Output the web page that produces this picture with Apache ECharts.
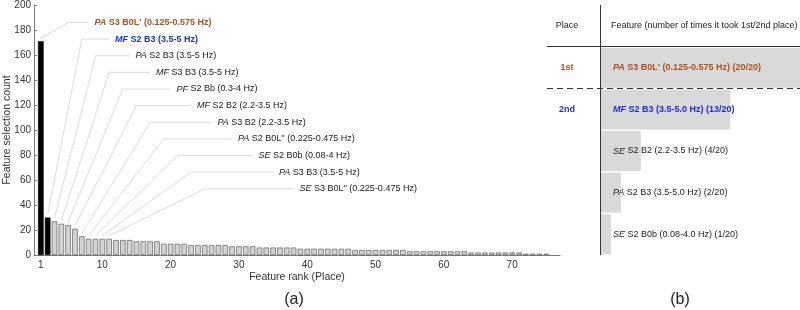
<!DOCTYPE html>
<html><head><meta charset="utf-8">
<script src="https://cdn.jsdelivr.net/npm/echarts@6/dist/echarts.min.js"></script>
<style>html,body{margin:0;padding:0;background:#fff}#c{width:800px;height:310px}</style>
</head><body><div id="c"></div>
<script>
// ---- data ----
const rankCounts = [171,30,27,25,24,21,15,13,13,13,13,12,12,12,11,11,11,11,9,9,9,9,8,8,8,8,8,8,7,7,7,7,6,6,6,6,6,6,
  5,5,5,5,5,5,5,5, 4,4,4,4,4,4,4,4, 3,3,3,3,3,3,3,3,3, 2,2,2,2,2,2,2,2, 1,1,1,1];
const calloutPrefix = ['PA','MF','PA','MF','PF','MF','PA','PA','SE','PA','SE'];
const calloutRest = ["S3 B0L' (0.125-0.575 Hz)","S2 B3 (3.5-5 Hz)","S2 B3 (3.5-5 Hz)","S3 B3 (3.5-5 Hz)",
  "S2 Bb (0.3-4 Hz)","S2 B2 (2.2-3.5 Hz)","S3 B2 (2.2-3.5 Hz)","S2 B0L'' (0.225-0.475 Hz)",
  "S2 B0b (0.08-4 Hz)","S3 B3 (3.5-5 Hz)","S3 B0L'' (0.225-0.475 Hz)"];
const xTicks = [1,10,20,30,40,50,60,70];
const tablePlaces = ['1st','2nd','','',''];
const tablePrefix = ['PA','MF','SE','PA','SE'];
const tableRest = ["S3 B0L' (0.125-0.575 Hz) (20/20)","S2 B3 (3.5-5.0 Hz) (13/20)","S2 B2 (2.2-3.5 Hz) (4/20)",
  "S2 B3 (3.5-5.0 Hz) (2/20)","S2 B0b (0.08-4.0 Hz) (1/20)"];
const tableWins = [20,13,4,2,1];

// ---- styles ----
const FONT = "'Liberation Sans', Arial, Helvetica, sans-serif";
const BROWN = '#a9521f';
const BLUE = '#1a30d6';
const DARK = '#1a1a1a';
const rowColor = i => i===0 ? BROWN : (i===1 ? BLUE : DARK);
const rowWeight = i => i<2 ? 'bold' : 'normal';
const richPair = (i, key) => ({
  a:{fontFamily:FONT, fontSize:9, fontStyle:'italic', fontWeight:rowWeight(i), [key]:rowColor(i), verticalAlign:'middle'},
  b:{fontFamily:FONT, fontSize:9, fontStyle:'normal', fontWeight:rowWeight(i), [key]:rowColor(i), verticalAlign:'middle'}
});

const chart = echarts.init(document.getElementById('c'), null, {renderer:'canvas'});

const barData = rankCounts.map((v,i)=>({
  value:[i+1, v],
  itemStyle: i<2 ? {color:'#000', borderColor:'#000', borderWidth:0.6}
                 : {color:'#d3d3d3', borderColor:'#6e6e6e', borderWidth:0.8}
}));

const calloutData = calloutPrefix.map((p,i)=>[i+1, rankCounts[i], i]);
const tableTextData = tableWins.map((w,i)=>[0, i, i]);

const option = {
  animation:false,
  backgroundColor:'#fff',
  textStyle:{fontFamily:FONT},
  grid:[
    {left:34, top:5, width:526, height:250, containLabel:false, outerBoundsMode:'none'},
    {left:601, top:47, width:199, height:208, containLabel:false, outerBoundsMode:'none'}
  ],
  xAxis:[
    {type:'value', gridIndex:0, min:0, max:77,
     axisLine:{show:true, lineStyle:{color:'#7a7a7a', width:1}},
     axisTick:{show:true, inside:true, length:3, customValues:xTicks, lineStyle:{color:'#7a7a7a'}},
     axisLabel:{customValues:xTicks, fontSize:10, color:'#333', margin:5, fontFamily:FONT},
     splitLine:{show:false},
     name:'Feature rank (Place)', nameLocation:'middle', nameGap:17, nameMoveOverlap:false,
     nameTextStyle:{fontSize:10.5, color:'#333', fontFamily:FONT}},
    {type:'value', gridIndex:1, min:0, max:20, show:false}
  ],
  yAxis:[
    {type:'value', gridIndex:0, min:0, max:200, interval:20,
     axisLine:{show:true, lineStyle:{color:'#7a7a7a', width:1}},
     axisTick:{show:true, inside:true, length:3, lineStyle:{color:'#7a7a7a'}},
     axisLabel:{fontSize:10, color:'#333', margin:3, fontFamily:FONT},
     splitLine:{show:false},
     name:'Feature selection count', nameLocation:'middle', nameGap:21, nameRotate:90, nameMoveOverlap:false,
     nameTextStyle:{fontSize:10.5, color:'#333', fontFamily:FONT}},
    {type:'category', gridIndex:1, inverse:true, data:tablePlaces,
     axisLine:{show:false}, axisTick:{show:false},
     axisLabel:{margin:34, align:'center', fontFamily:FONT,
       formatter:(v,idx)=> v ? '{p'+idx+'|'+v+'}' : '',
       rich:{
         p0:{fontFamily:FONT, fontSize:9, fontWeight:'bold', color:BROWN},
         p1:{fontFamily:FONT, fontSize:9, fontWeight:'bold', color:BLUE}
       }}}
  ],
  series:[
    {type:'bar', xAxisIndex:0, yAxisIndex:0, barWidth:5.6, data:barData, silent:true},
    {type:'custom', xAxisIndex:0, yAxisIndex:0, data:calloutData, silent:true, z:5, clip:false,
     renderItem:(params, api)=>{
       const i = api.value(2);
       const p0 = api.coord([api.value(0), api.value(1)]);
       p0[1] -= 3;
       const ly = 186 - 13.3*i;
       const pc = api.coord([5 + 2*i, ly]);
       const pt = api.coord([8.85 + 3*i, ly]);
       return {type:'group', children:[
         {type:'polyline', shape:{points:[p0, pc, [pt[0]-6, pc[1]]]},
          style:{stroke:'#d2d2d2', lineWidth:0.8, fill:null}},
         {type:'text', style:{x:pt[0], y:pt[1], verticalAlign:'middle', align:'left',
           text:'{a|'+calloutPrefix[i]+'}{b| '+calloutRest[i]+'}', rich:richPair(i,'fill')}}
       ]};
     }},
    {type:'bar', xAxisIndex:1, yAxisIndex:1, barWidth:40, data:tableWins, silent:true,
     itemStyle:{color:'#d9d9d9'}},
    {type:'custom', xAxisIndex:1, yAxisIndex:1, data:tableTextData, silent:true, z:5, clip:false,
     renderItem:(params, api)=>{
       const i = api.value(2);
       const p = api.coord([api.value(0), api.value(1)]);
       return {type:'text', style:{x:p[0]+12, y:p[1], verticalAlign:'middle', align:'left',
         text:'{a|'+tablePrefix[i]+'}{b| '+tableRest[i]+'}', rich:richPair(i,'fill')}};
     }}
  ],
  graphic:[
    {type:'line', shape:{x1:600.5, y1:5, x2:600.5, y2:255}, style:{stroke:'#333', lineWidth:1}, z:10},
    {type:'line', shape:{x1:547, y1:46.5, x2:800, y2:46.5}, style:{stroke:'#333', lineWidth:1}, z:10},
    {type:'line', shape:{x1:547, y1:88.5, x2:800, y2:88.5}, style:{stroke:'#333', lineWidth:1, lineDash:[6,4]}, z:10},
    {type:'text', x:567, y:26, style:{text:'Place', font:'9px '+FONT, fill:'#222', align:'center', verticalAlign:'middle'}},
    {type:'text', x:611, y:26, style:{text:'Feature (number of times it took 1st/2nd place)', font:'9px '+FONT, fill:'#222', align:'left', verticalAlign:'middle'}},
    {type:'text', x:294, y:300, style:{text:'(a)', font:'16px '+FONT, fill:'#222', align:'center', verticalAlign:'middle'}},
    {type:'text', x:680, y:300, style:{text:'(b)', font:'16px '+FONT, fill:'#222', align:'center', verticalAlign:'middle'}}
  ]
};
chart.setOption(option);
</script>
</body></html>
